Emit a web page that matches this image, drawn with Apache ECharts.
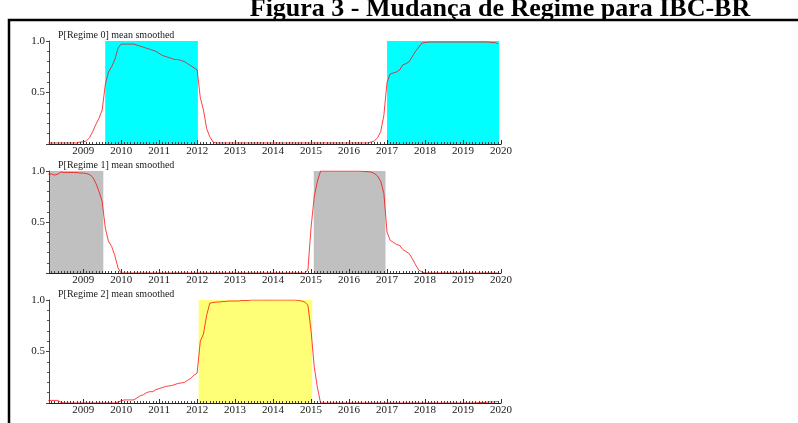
<!DOCTYPE html>
<html>
<head>
<meta charset="utf-8">
<script src="https://cdn.jsdelivr.net/npm/echarts@6/dist/echarts.min.js"></script>
<style>
  html, body { margin: 0; padding: 0; background: #fff; }
  #chart { width: 798px; height: 423px; }
</style>
</head>
<body>
<div id="chart"></div>
<script>
// Smoothed regime probabilities, monthly from 2008-02 to 2019-12 (one row per year)
const startYear = 2008, startMonth = 2;

const regime0 = [
  /*2008*/ 0.01,0.01,0.01,0.01,0.01,0.01,0.01,0.01,0.01,0.01,0.02,
  /*2009*/ 0.02,0.03,0.06,0.12,0.19,0.25,0.33,0.58,0.70,0.75,0.82,0.93,
  /*2010*/ 0.97,0.97,0.97,0.97,0.97,0.96,0.95,0.94,0.93,0.92,0.91,0.90,
  /*2011*/ 0.88,0.86,0.85,0.84,0.83,0.82,0.82,0.81,0.80,0.78,0.76,0.74,
  /*2012*/ 0.72,0.45,0.33,0.15,0.07,0.02,0.01,0.01,0.01,0.01,0.01,0.01,
  /*2013*/ 0.01,0.01,0.01,0.01,0.01,0.01,0.01,0.01,0.01,0.01,0.01,0.01,
  /*2014*/ 0.01,0.01,0.01,0.01,0.01,0.01,0.01,0.01,0.01,0.01,0.01,0.01,
  /*2015*/ 0.01,0.01,0.01,0.01,0.01,0.01,0.01,0.01,0.01,0.01,0.01,0.01,
  /*2016*/ 0.01,0.01,0.01,0.01,0.01,0.01,0.01,0.02,0.03,0.06,0.12,0.28,
  /*2017*/ 0.60,0.68,0.69,0.70,0.72,0.77,0.78,0.80,0.85,0.90,0.94,0.98,
  /*2018*/ 0.985,0.99,0.99,0.99,0.99,0.99,0.99,0.99,0.99,0.99,0.99,0.99,
  /*2019*/ 0.99,0.99,0.99,0.99,0.99,0.99,0.99,0.99,0.99,0.985,0.985,0.975
];

const regime1 = [
  /*2008*/ 0.97,0.97,0.96,0.97,0.99,0.985,0.985,0.985,0.985,0.985,0.98,
  /*2009*/ 0.98,0.975,0.965,0.94,0.88,0.80,0.70,0.44,0.31,0.26,0.17,0.05,
  /*2010*/ 0.00,0.00,0.00,0.00,0.00,0.00,0.00,0.00,0.00,0.00,0.00,0.00,
  /*2011*/ 0.00,0.00,0.00,0.00,0.00,0.00,0.00,0.00,0.00,0.00,0.00,0.00,
  /*2012*/ 0.00,0.00,0.00,0.00,0.00,0.00,0.00,0.00,0.00,0.00,0.00,0.00,
  /*2013*/ 0.00,0.00,0.00,0.00,0.00,0.00,0.00,0.00,0.00,0.00,0.00,0.00,
  /*2014*/ 0.00,0.00,0.00,0.00,0.00,0.00,0.00,0.00,0.00,0.00,0.00,0.03,
  /*2015*/ 0.45,0.75,0.90,1.00,1.00,1.00,1.00,1.00,1.00,1.00,1.00,1.00,
  /*2016*/ 1.00,1.00,1.00,1.00,0.998,0.995,0.993,0.99,0.975,0.95,0.90,0.78,
  /*2017*/ 0.40,0.32,0.30,0.28,0.27,0.23,0.21,0.19,0.14,0.08,0.03,0.01,
  /*2018*/ 0.00,0.00,0.00,0.00,0.00,0.00,0.00,0.00,0.00,0.00,0.00,0.00,
  /*2019*/ 0.00,0.00,0.00,0.00,0.00,0.00,0.00,0.00,0.00,0.00,0.00,0.00
];

const regime2 = [
  /*2008*/ 0.025,0.025,0.025,0.025,0.005,0.00,0.00,0.00,0.00,0.00,0.00,
  /*2009*/ 0.00,0.00,0.00,0.00,0.00,0.00,0.00,0.00,0.00,0.00,0.00,0.01,
  /*2010*/ 0.02,0.03,0.03,0.03,0.03,0.05,0.07,0.08,0.10,0.11,0.11,0.13,
  /*2011*/ 0.14,0.15,0.16,0.165,0.17,0.18,0.19,0.195,0.20,0.22,0.24,0.27,
  /*2012*/ 0.29,0.60,0.67,0.85,0.97,0.975,0.98,0.98,0.985,0.985,0.99,0.99,
  /*2013*/ 0.99,0.99,0.995,0.995,0.995,1.00,1.00,1.00,1.00,1.00,1.00,1.00,
  /*2014*/ 1.00,1.00,1.00,1.00,1.00,1.00,1.00,1.00,0.995,0.99,0.98,0.95,
  /*2015*/ 0.70,0.35,0.15,0.00,0.00,0.00,0.00,0.00,0.00,0.00,0.00,0.00,
  /*2016*/ 0.00,0.00,0.00,0.00,0.00,0.00,0.00,0.00,0.00,0.00,0.00,0.00,
  /*2017*/ 0.00,0.00,0.00,0.00,0.00,0.00,0.00,0.00,0.00,0.00,0.00,0.00,
  /*2018*/ 0.00,0.00,0.00,0.00,0.00,0.00,0.00,0.00,0.00,0.00,0.00,0.00,
  /*2019*/ 0.00,0.00,0.00,0.00,0.00,0.005,0.005,0.005,0.01,0.01,0.01,0.015
];

// Periods classified into each regime (decimal years)
const regime0Spans = [[2009.58, 2012.02], [2017.0, 2019.95]];
const regime1Spans = [[2008.1, 2009.53], [2015.07, 2016.96]];
const regime2Spans = [[2012.04, 2015.03]];

const panelTitles = ['P[Regime 0] mean smoothed', 'P[Regime 1] mean smoothed', 'P[Regime 2] mean smoothed'];
const yearTicks = [2009, 2010, 2011, 2012, 2013, 2014, 2015, 2016, 2017, 2018, 2019, 2020];
const yTickLabels = { 0.5: '0.5', 1: '1.0' };
const chartTitle = 'Figura 3 - Mudança de Regime para IBC-BR';

const xMin = 2008.1, xMax = 2020;
const serif = '"Liberation Serif", "DejaVu Serif", serif';

function toPairs(values) {
  return values.map((v, i) => {
    const m = startMonth - 1 + i;
    return [startYear + m / 12, v];
  });
}

const monthTicks = [];
for (let y = 2008; y < 2020; y++) {
  for (let m = 1; m < 12; m++) {
    const t = y + m / 12;
    if (t >= xMin && t <= xMax) monthTicks.push(t);
  }
}

const panels = [
  { values: regime0, spans: regime0Spans, fill: '#00ffff' },
  { values: regime1, spans: regime1Spans, fill: '#c0c0c0' },
  { values: regime2, spans: regime2Spans, fill: '#ffff77' }
];
const gridBoxes = [
  { top: 41, height: 103 },
  { top: 171, height: 102 },
  { top: 300, height: 103 }
];

const grids = [], xAxes = [], yAxes = [], series = [], graphics = [];

panels.forEach((p, i) => {
  grids.push({ left: 49, width: 452, top: gridBoxes[i].top, height: gridBoxes[i].height });
  // year ticks and labels
  xAxes.push({
    gridIndex: i, type: 'value', position: 'bottom', min: xMin, max: xMax, z: 10,
    axisLine: { show: true, onZero: false, lineStyle: { color: '#222', width: 1 } },
    axisTick: { show: true, inside: true, length: 4, customValues: yearTicks, lineStyle: { color: '#333' } },
    axisLabel: {
      customValues: yearTicks, color: '#1a1a1a', fontFamily: serif, fontSize: 11, margin: 2,
      formatter: v => String(Math.round(v))
    },
    splitLine: { show: false }
  });
  // monthly minor ticks along the same baseline
  xAxes.push({
    gridIndex: i, type: 'value', position: 'bottom', offset: 0, min: xMin, max: xMax, z: 10,
    axisLine: { show: false, onZero: false },
    axisTick: { show: true, inside: true, length: 2, customValues: monthTicks, lineStyle: { color: '#444' } },
    axisLabel: { show: false },
    splitLine: { show: false }
  });
  yAxes.push({
    gridIndex: i, type: 'value', min: 0, max: 1, interval: 0.5, z: 10,
    axisLine: { show: true, lineStyle: { color: '#444', width: 1 } },
    axisTick: { show: true, inside: false, length: 3, lineStyle: { color: '#444' } },
    minorTick: { show: true, splitNumber: 5, length: 2, lineStyle: { color: '#555' } },
    axisLabel: {
      color: '#1a1a1a', fontFamily: serif, fontSize: 11, margin: 4,
      formatter: v => yTickLabels[v] || ''
    },
    splitLine: { show: false },
    minorSplitLine: { show: false }
  });
  series.push({
    type: 'line',
    xAxisIndex: i * 2, yAxisIndex: i,
    data: toPairs(p.values),
    showSymbol: false, symbol: 'none',
    lineStyle: { color: 'rgba(255,0,0,0.75)', width: 1 },
    itemStyle: { color: '#ff0000' },
    z: 5,
    markArea: {
      silent: true,
      itemStyle: { color: p.fill, opacity: 1 },
      data: p.spans.map(s => [{ xAxis: s[0], yAxis: 0 }, { xAxis: s[1], yAxis: 1 }])
    }
  });
  graphics.push({
    type: 'text', left: 58, top: gridBoxes[i].top - 11, z: 20,
    style: { text: panelTitles[i], font: '10px ' + serif, fill: '#1a1a1a' }
  });
});

// frame around the figure
graphics.push({
  type: 'rect', z: 30,
  shape: { x: 9, y: 20, width: 900, height: 500 },
  style: { fill: 'none', stroke: '#000', lineWidth: 2.5 }
});
// figure caption, partly above the page edge
graphics.push({
  type: 'text', z: 30, x: 500, y: 22,
  style: { text: chartTitle, font: 'bold 26px ' + serif, fill: '#000', align: 'center', verticalAlign: 'bottom' }
});

const chart = echarts.init(document.getElementById('chart'), null, { renderer: 'canvas' });
chart.setOption({
  animation: false,
  backgroundColor: '#ffffff',
  grid: grids,
  xAxis: xAxes,
  yAxis: yAxes,
  series: series,
  graphic: graphics
});
</script>
</body>
</html>
